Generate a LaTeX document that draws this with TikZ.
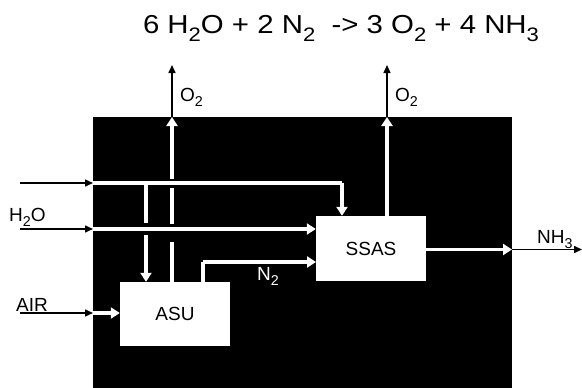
\documentclass[tikz,border=0pt]{standalone}
\usepackage{fontspec}
\setmainfont{Liberation Sans}
\usepackage{graphicx}
\usetikzlibrary{arrows.meta}
\newcommand{\sbs}[1]{\raisebox{-0.28em}{\scalebox{0.75}{#1}}}
\tikzset{
  wline/.style={draw=white, line width=3.5pt},
  warrow/.style={wline, -{Triangle[length=9pt,width=11pt,fill=white]}},
  barrow/.style={draw=black, line width=1.5pt, -{Triangle[length=8pt,width=7pt]}},
  unit/.style={draw=none, fill=white, minimum width=110pt, inner sep=0pt, font=\fontsize{19}{21}\selectfont},
  lbl/.style={inner sep=0pt, font=\fontsize{19}{21}\selectfont}
}
\begin{document}
\begin{tikzpicture}[x=1pt,y=-1pt]
\useasboundingbox (0,0) rectangle (582,388);
\fill[black] (93,117) rectangle (512,388);
% title
\node[inner sep=0pt, anchor=base, font=\fontsize{26}{28}\selectfont] (title) at (341,34)
  {\scalebox{1.13}[1]{6 H\sbs{2}O + 2 N\sbs{2}\ \ -> 3 O\sbs{2} + 4 NH\sbs{3}}};
% units
\node[unit, minimum height=64pt] (asu) at (175,314) {ASU};
\node[unit, minimum height=65pt] (ssas) at (371,248.5) {SSAS};
% coordinates
\coordinate (inA) at (20,183);   \coordinate (inAe) at (93,183);
\coordinate (inB) at (20,229);   \coordinate (inBe) at (93,229);
\coordinate (inC) at (20,313);   \coordinate (inCe) at (93,313);
\coordinate (topR) at (342,183);
\coordinate (dnT) at (146,183);  \coordinate (dnG1) at (146,223); \coordinate (dnG2) at (146,235);
\coordinate (o2a) at (172,282); \coordinate (o2a1) at (172,242); \coordinate (o2a2) at (172,224);
\coordinate (o2a3) at (172,188); \coordinate (o2a4) at (172,179);
\coordinate (o2aT) at (172,117); \coordinate (o2aE) at (172,65);
\coordinate (o2bT) at (387,117); \coordinate (o2bE) at (387,65);
\coordinate (n2a) at (203,282); \coordinate (n2b) at (203,262); \coordinate (n2c) at (316,262);
\coordinate (nhT) at (512,249.5); \coordinate (nhE) at (582,249.5);
% black inputs
\draw[barrow] (inA) -- (inAe);
\draw[barrow] (inB) -- (inBe);
\draw[barrow] (inC) -- (inCe);
% white internal
\draw[wline] (inAe) -- (topR);
\draw[warrow] (topR) -- (ssas.north -| topR);
\draw[wline] (dnT) -- (dnG1);
\draw[warrow] (dnG2) -- (asu.north -| dnG2);
\draw[warrow] (inBe) -- (ssas.west |- inBe);
\draw[warrow] (inCe) -- (asu.west |- inCe);
\draw[wline] (o2a) -- (o2a1);
\draw[wline] (o2a2) -- (o2a3);
\draw[warrow] (o2a4) -- (o2aT);
\draw[barrow] (o2aT) -- (o2aE);
\draw[warrow] (ssas.north -| o2bT) -- (o2bT);
\draw[barrow] (o2bT) -- (o2bE);
\draw[wline] (n2a) -- (n2b);
\draw[warrow] (n2b) -- (n2c);
\draw[warrow] (ssas.east |- nhT) -- (nhT);
\draw[barrow] (nhT) -- (nhE);
% labels
\node[lbl, anchor=base west] (lo2a) at (180,101) {O\sbs{2}};
\node[lbl, anchor=base west] (lo2b) at (395,101) {O\sbs{2}};
\node[lbl, anchor=base west, text=white] (ln2) at (257,280) {N\sbs{2}};
\node[lbl, anchor=base west] (lnh3) at (537,243) {NH\sbs{3}};
\node[lbl, anchor=base west] (lh2o) at (9,221) {H\sbs{2}O};
\node[lbl, anchor=base west] (lair) at (16,311) {AIR};
\end{tikzpicture}
\end{document}
